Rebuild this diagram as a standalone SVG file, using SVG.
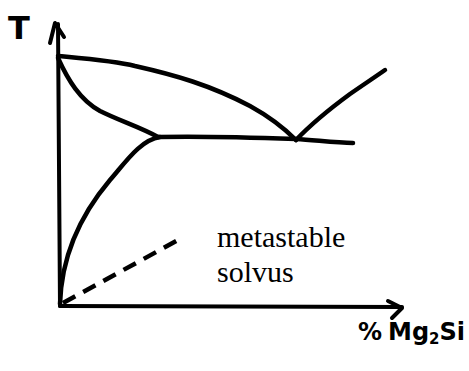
<svg xmlns="http://www.w3.org/2000/svg" width="469" height="371" viewBox="0 0 469 371">
<style>
.ln{fill:none;stroke:#000;stroke-width:4.5;stroke-linecap:round;stroke-linejoin:round}
.ax{fill:none;stroke:#000;stroke-width:4;stroke-linecap:round;stroke-linejoin:round}
.dash{fill:none;stroke:#000;stroke-width:4.5;stroke-dasharray:14 9}
.lbl{font-family:"Liberation Serif",serif;font-size:30px;fill:#000}
.hand{font-family:"DejaVu Sans",sans-serif;font-weight:bold;fill:#000}
</style>
<rect width="469" height="371" fill="#fff"/>
<g id="axes">
<path class="ax" d="M60,306 L58,24"/>
<path class="ax" d="M50,43 L55,23 L64,37"/>
<path class="ax" d="M60,306 L402,307"/>
<path class="ax" d="M388,301 L402,308 L392,318"/>
</g>
<g id="connectors">
<path id="liquidus-left" class="ln" d="M58,56 C90,59 115,61 135,66 C175,75 210,85 250,106 C270,117 285,129 296,140"/>
<path id="liquidus-right" class="ln" d="M296,140 C315,120 335,105 350,94 C363,85 375,77 385,70"/>
<path id="eutectic" class="ln" d="M158,137 C200,136 240,137 296,139 C315,140 335,143 353,143"/>
<path id="solvus-upper" class="ln" d="M58,58 C68,80 80,100 100,111 C120,121 140,127 158,137"/>
<path id="solvus-lower" class="ln" d="M60,304 C61,270 72,225 110,180 C125,163 140,140 160,137"/>
<path id="metastable" class="dash" d="M63,303 L180,239"/>
</g>
<g id="label-T"><text class="hand" x="8" y="39" font-size="32">T</text></g>
<g id="label-metastable"><text class="lbl" x="217" y="247">metastable</text><text class="lbl" x="217" y="282">solvus</text></g>
<g id="label-x"><text class="hand" x="358" y="340" font-size="24">%<tspan dx="6">Mg</tspan><tspan font-size="15" dy="4">2</tspan><tspan dy="-4">Si</tspan></text></g>
</svg>
